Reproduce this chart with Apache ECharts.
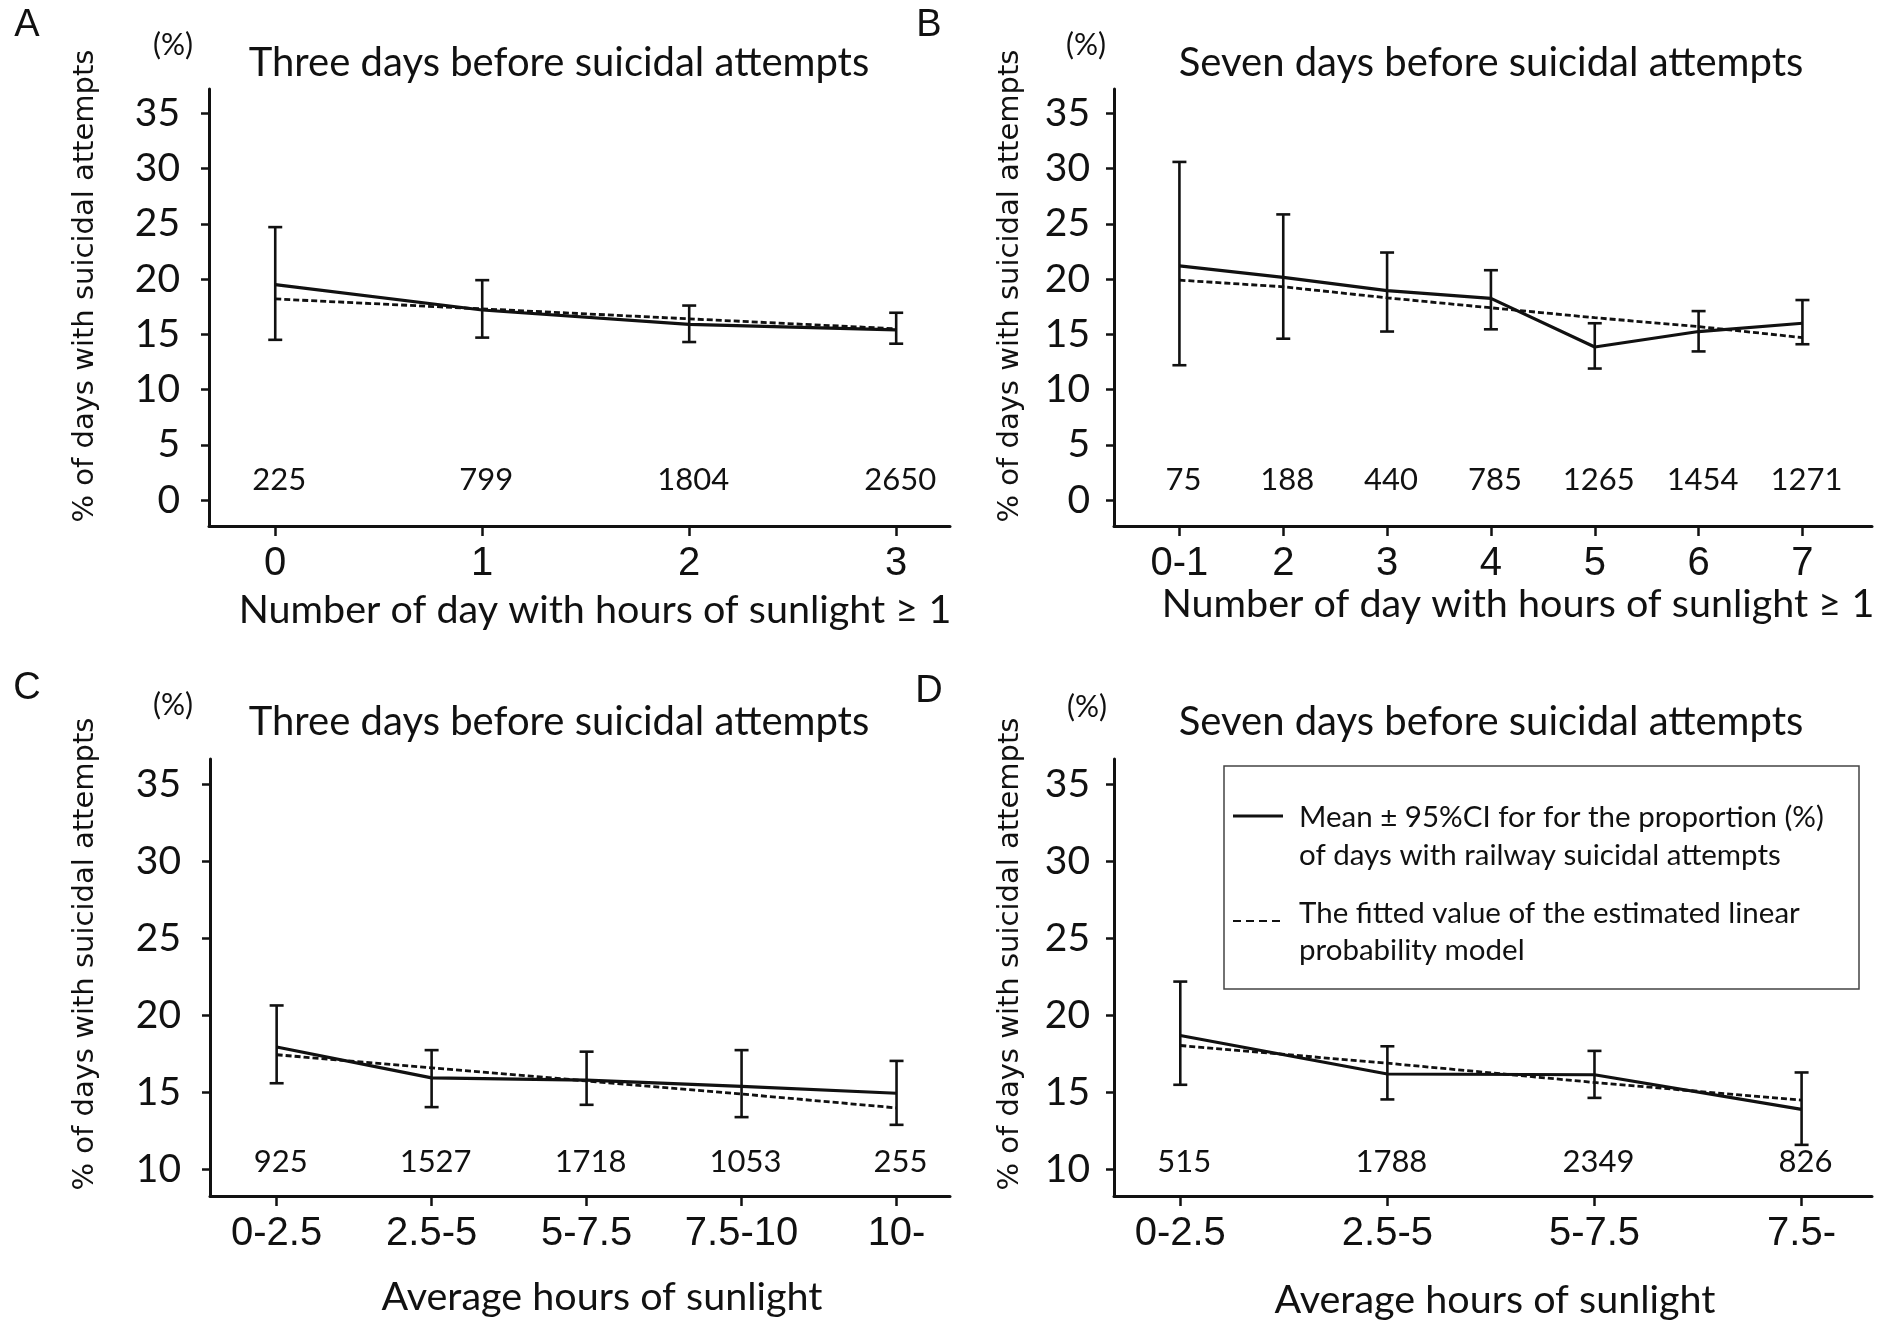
<!DOCTYPE html>
<html>
<head>
<meta charset="utf-8">
<script src="https://cdn.jsdelivr.net/npm/echarts@6/dist/echarts.min.js"></script>
<style>
  html, body { margin: 0; padding: 0; background: #fff; }
  #chart { width: 1888px; height: 1322px; }
</style>
</head>
<body>
<div id="chart"></div>
<script>
// panel A: three days, number of sunny days
const aCats = ['0', '1', '2', '3'];
const aMean = [19.5, 17.2, 15.9, 15.4];
const aLow = [14.5, 14.7, 14.3, 14.15];
const aHigh = [24.7, 19.9, 17.6, 16.95];
const aFit = [18.2, 17.3, 16.4, 15.5];
const aN = [225, 799, 1804, 2650];

// panel B: seven days, number of sunny days
const bCats = ['0-1', '2', '3', '4', '5', '6', '7'];
const bMean = [21.2, 20.15, 18.95, 18.25, 13.85, 15.25, 16.0];
const bLow = [12.2, 14.6, 15.25, 15.45, 11.9, 13.45, 14.1];
const bHigh = [30.6, 25.85, 22.4, 20.8, 16.0, 17.1, 18.1];
const bFit = [19.9, 19.3, 18.3, 17.4, 16.5, 15.7, 14.7];
const bN = [75, 188, 440, 785, 1265, 1454, 1271];

// panel C: three days, average hours of sunlight
const cCats = ['0-2.5', '2.5-5', '5-7.5', '7.5-10', '10-'];
const cMean = [17.95, 15.95, 15.8, 15.4, 14.95];
const cLow = [15.6, 14.05, 14.2, 13.4, 12.9];
const cHigh = [20.65, 17.75, 17.65, 17.75, 17.05];
const cFit = [17.45, 16.6, 15.75, 14.9, 14.0];
const cN = [925, 1527, 1718, 1053, 255];

// panel D: seven days, average hours of sunlight
const dCats = ['0-2.5', '2.5-5', '5-7.5', '7.5-'];
const dMean = [18.7, 16.2, 16.15, 13.9];
const dLow = [15.5, 14.55, 14.65, 11.6];
const dHigh = [22.2, 18.0, 17.7, 16.3];
const dFit = [18.05, 16.9, 15.65, 14.5];
const dN = [515, 1788, 2349, 826];

const yTicksTop = [0, 5, 10, 15, 20, 25, 30, 35];
const yTicksBottom = [10, 15, 20, 25, 30, 35];

const LATO = 'Lato, "Open Sans", sans-serif';
const ARIAL = '"Liberation Sans", Arial, sans-serif';
const INK = '#111';

const panels = [
  { cats: aCats, mean: aMean, low: aLow, high: aHigh, fit: aFit, n: aN, yTicks: yTicksTop,
    grid: { left: 209, top: 89, width: 741, height: 437 }, x: [-0.32, 3.26], y: [-2.35, 37.2], nY: 1.8, yMargin: 29 },
  { cats: bCats, mean: bMean, low: bLow, high: bHigh, fit: bFit, n: bN, yTicks: yTicksTop,
    grid: { left: 1114, top: 89, width: 758, height: 437 }, x: [-0.63, 6.67], y: [-2.35, 37.2], nY: 1.8, yMargin: 24 },
  { cats: cCats, mean: cMean, low: cLow, high: cHigh, fit: cFit, n: cN, yTicks: yTicksBottom,
    grid: { left: 210, top: 759, width: 740, height: 437 }, x: [-0.43, 4.345], y: [8.28, 36.65], nY: 10.5, yMargin: 29 },
  { cats: dCats, mean: dMean, low: dLow, high: dHigh, fit: dFit, n: dN, yTicks: yTicksBottom,
    grid: { left: 1114, top: 759, width: 758, height: 437 }, x: [-0.32, 3.34], y: [8.28, 36.65], nY: 10.5, yMargin: 24 }
];

const grid = [], xAxis = [], yAxis = [], series = [];

panels.forEach((p, i) => {
  grid.push(p.grid);
  const idx = p.cats.map((c, k) => k);
  xAxis.push({
    type: 'value', gridIndex: i, min: p.x[0], max: p.x[1],
    splitLine: { show: false },
    axisLine: { onZero: false, lineStyle: { color: INK, width: 3 } },
    axisTick: { customValues: idx, length: 10, lineStyle: { color: INK, width: 2.5 } },
    axisLabel: {
      customValues: idx, margin: 18, color: INK, fontFamily: ARIAL, fontSize: 40,
      formatter: v => p.cats[Math.round(v)]
    }
  });
  yAxis.push({
    type: 'value', gridIndex: i, min: p.y[0], max: p.y[1],
    splitLine: { show: false },
    axisLine: { show: true, onZero: false, lineStyle: { color: INK, width: 3 } },
    axisTick: { show: true, customValues: p.yTicks, length: 8, lineStyle: { color: INK, width: 2.5 } },
    axisLabel: { customValues: p.yTicks, margin: p.yMargin, color: INK, fontFamily: LATO, fontSize: 39 }
  });

  // 95% CI error bars
  series.push({
    type: 'custom', xAxisIndex: i, yAxisIndex: i, silent: true, z: 3,
    data: idx.map(k => [k, p.low[k], p.high[k]]),
    renderItem: (params, api) => {
      const top = api.coord([api.value(0), api.value(2)]);
      const bot = api.coord([api.value(0), api.value(1)]);
      const w = 7;
      const st = { stroke: INK, lineWidth: 2.6 };
      return {
        type: 'group',
        children: [
          { type: 'line', shape: { x1: top[0], y1: top[1], x2: bot[0], y2: bot[1] }, style: st },
          { type: 'line', shape: { x1: top[0] - w, y1: top[1], x2: top[0] + w, y2: top[1] }, style: st },
          { type: 'line', shape: { x1: bot[0] - w, y1: bot[1], x2: bot[0] + w, y2: bot[1] }, style: st }
        ]
      };
    }
  });
  // observed mean
  series.push({
    type: 'line', xAxisIndex: i, yAxisIndex: i, silent: true, showSymbol: false, z: 4,
    data: idx.map(k => [k, p.mean[k]]),
    lineStyle: { color: INK, width: 3.2 }
  });
  // fitted linear probability model
  series.push({
    type: 'line', xAxisIndex: i, yAxisIndex: i, silent: true, showSymbol: false, z: 5,
    data: idx.map(k => [k, p.fit[k]]),
    lineStyle: { color: INK, width: 2.8, type: [6, 3] }
  });
  // sample sizes under each category
  series.push({
    type: 'custom', xAxisIndex: i, yAxisIndex: i, silent: true, z: 2,
    data: idx.map(k => [k, p.nY, p.n[k]]),
    renderItem: (params, api) => {
      const pt = api.coord([api.value(0), api.value(1)]);
      return {
        type: 'text', x: pt[0] + 4, y: pt[1],
        style: {
          text: String(api.value(2)), font: '31px ' + LATO, fill: INK,
          align: 'center', verticalAlign: 'middle', textAlign: 'center', textVerticalAlign: 'middle'
        }
      };
    }
  });
});

function label(text, x, y, font, rot) {
  return {
    type: 'text', x: x, y: y, rotation: rot || 0, silent: true,
    style: {
      text: text, font: font, fill: INK,
      align: 'center', verticalAlign: 'middle', textAlign: 'center', textVerticalAlign: 'middle'
    }
  };
}

const yTitle = '% of days with suicidal attempts';
const graphic = [
  label('A', 27, 26, '38px ' + ARIAL),
  label('B', 929, 26, '38px ' + ARIAL),
  label('C', 27, 689, '38px ' + ARIAL),
  label('D', 929, 692, '38px ' + ARIAL),
  label('(%)', 173, 45, '30px ' + LATO),
  label('(%)', 1086, 45, '30px ' + LATO),
  label('(%)', 173, 705, '30px ' + LATO),
  label('(%)', 1087, 707, '30px ' + LATO),
  label('Three days before suicidal attempts', 559, 63, '40px ' + LATO),
  label('Seven days before suicidal attempts', 1491, 63, '40px ' + LATO),
  label('Three days before suicidal attempts', 559, 722, '40px ' + LATO),
  label('Seven days before suicidal attempts', 1491, 722, '40px ' + LATO),
  label(yTitle, 85, 286, '29px "DejaVu Sans", sans-serif', Math.PI / 2),
  label(yTitle, 1010, 286, '29px "DejaVu Sans", sans-serif', Math.PI / 2),
  label(yTitle, 85, 954, '29px "DejaVu Sans", sans-serif', Math.PI / 2),
  label(yTitle, 1010, 954, '29px "DejaVu Sans", sans-serif', Math.PI / 2),
  label('Number of day with hours of sunlight \u2265 1', 595, 610, '39.5px ' + LATO),
  label('Number of day with hours of sunlight \u2265 1', 1518, 604, '39.5px ' + LATO),
  label('Average hours of sunlight', 602, 1297, '39.5px ' + LATO),
  label('Average hours of sunlight', 1495, 1300, '39.5px ' + LATO),
  // legend box in panel D
  { type: 'rect', silent: true, shape: { x: 1224, y: 766, width: 635, height: 223 },
    style: { fill: '#fff', stroke: '#444', lineWidth: 1.5 }, z: 10 },
  { type: 'line', silent: true, shape: { x1: 1233, y1: 816, x2: 1283, y2: 816 },
    style: { stroke: INK, lineWidth: 3 }, z: 11 },
  { type: 'line', silent: true, shape: { x1: 1233, y1: 921, x2: 1283, y2: 921 },
    style: { stroke: INK, lineWidth: 2, lineDash: [8, 5] }, z: 11 }
];
[
  ['Mean \u00b1 95%CI for for the proportion (%)', 817],
  ['of days with railway suicidal attempts', 855],
  ['The fitted value of the estimated linear', 913],
  ['probability model', 950]
].forEach(([t, y]) => {
  graphic.push({
    type: 'text', x: 1299, y: y, silent: true, z: 11,
    style: { text: t, font: '29.5px ' + LATO, fill: INK, align: 'left', verticalAlign: 'middle',
      textAlign: 'left', textVerticalAlign: 'middle' }
  });
});

const chart = echarts.init(document.getElementById('chart'), null, { renderer: 'canvas' });
chart.setOption({
  animation: false,
  backgroundColor: '#fff',
  grid: grid,
  xAxis: xAxis,
  yAxis: yAxis,
  series: series,
  graphic: graphic
});
</script>
</body>
</html>
